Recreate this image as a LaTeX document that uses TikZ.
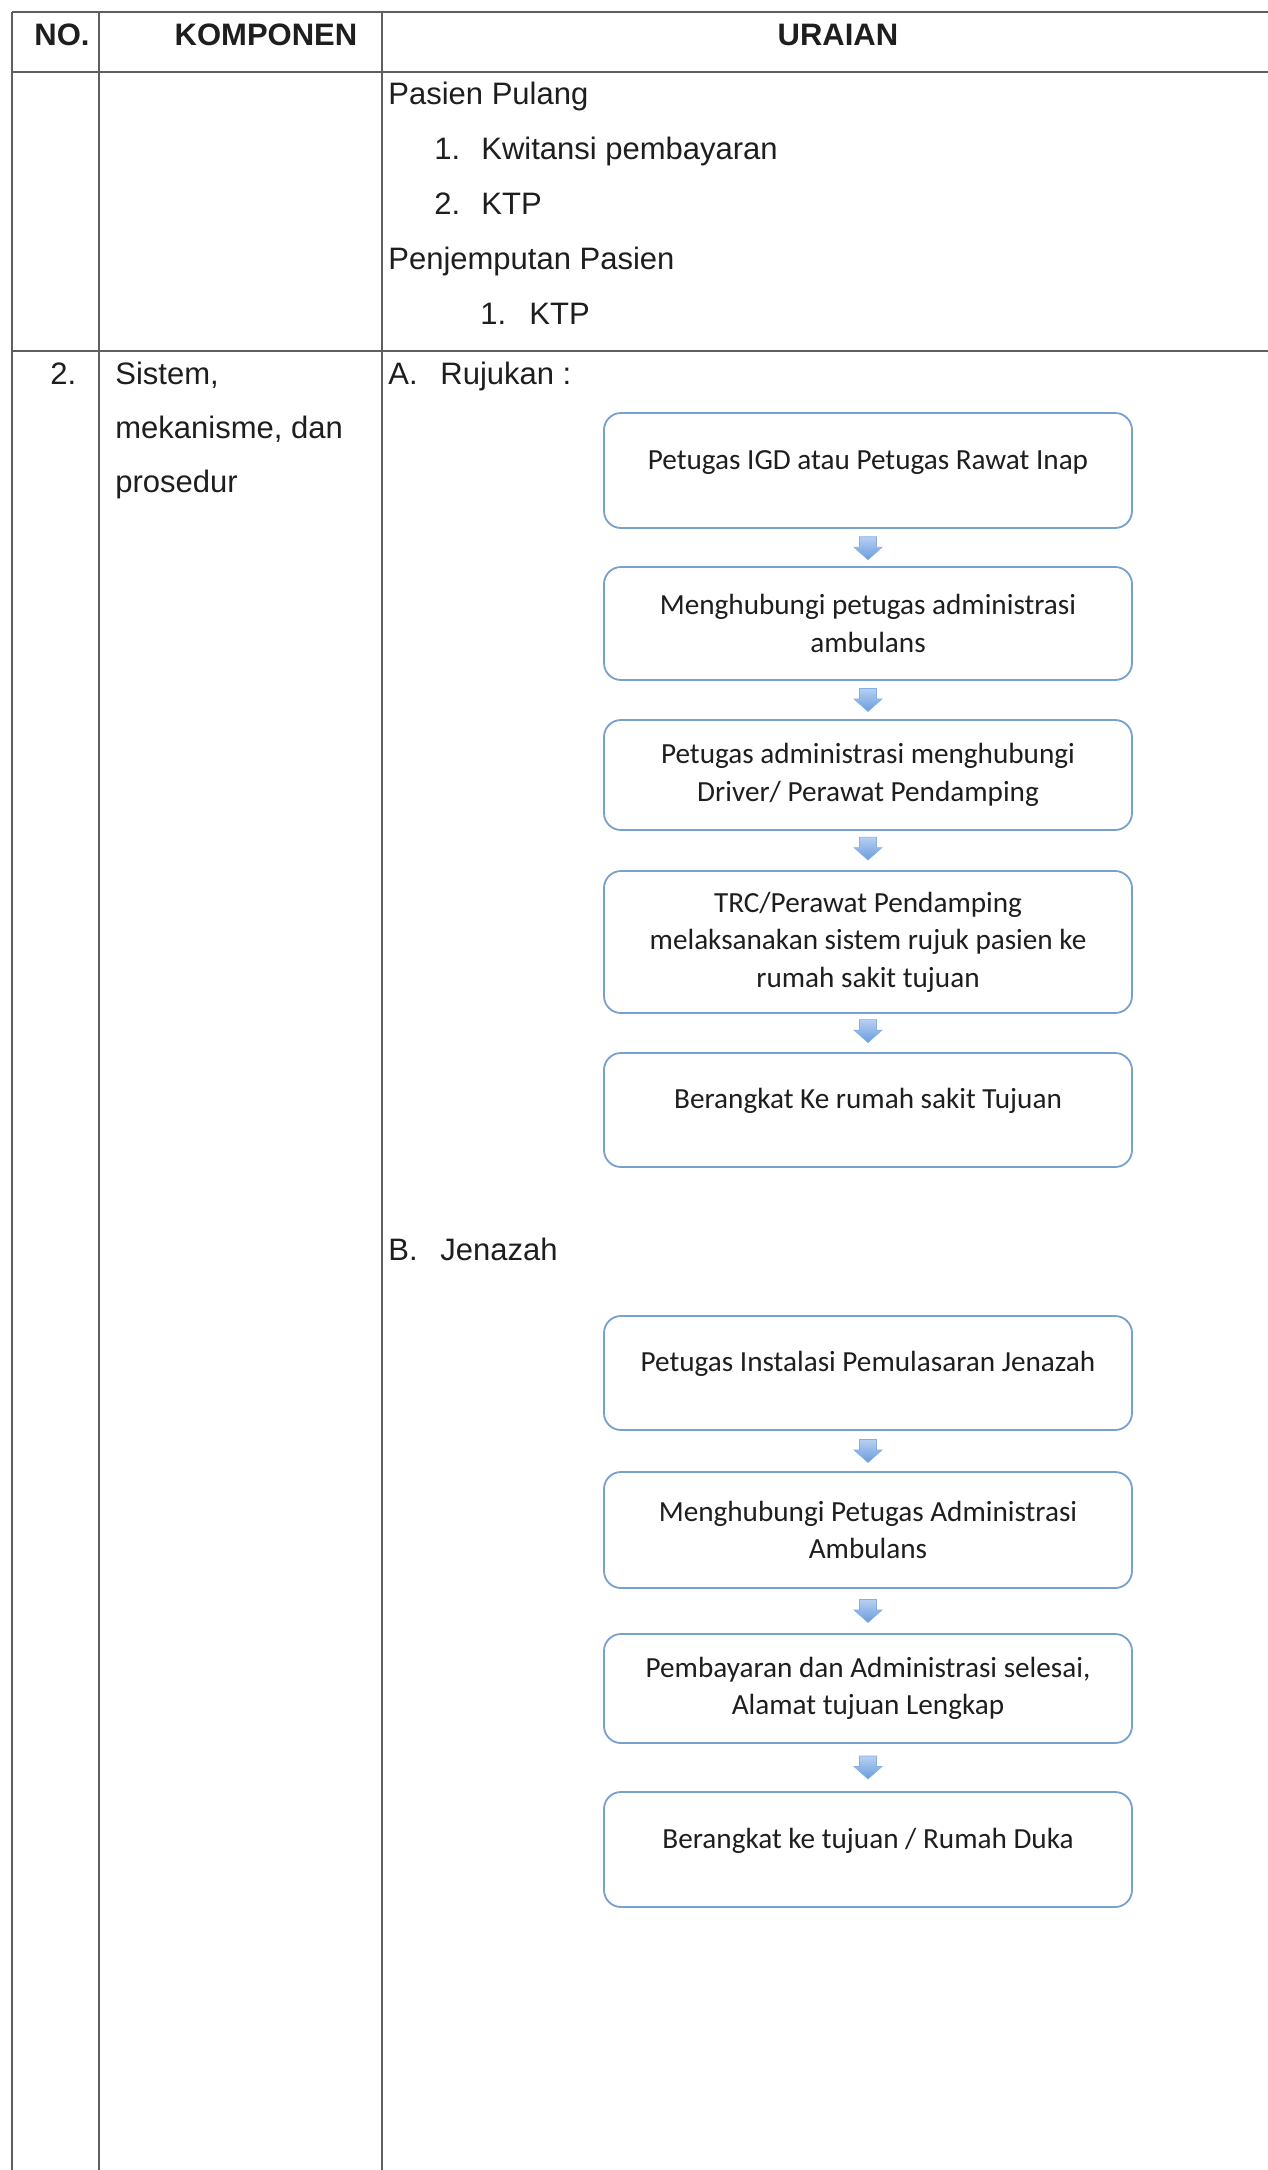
\documentclass[tikz,border=0pt]{standalone}
\usepackage{fontspec}
\setmainfont{Liberation Sans}
\newfontfamily\boxfont{Carlito}
\definecolor{gridline}{RGB}{95,95,95}
\definecolor{boxline}{RGB}{120,160,205}
\definecolor{arrtop}{RGB}{182,208,242}
\definecolor{arrbot}{RGB}{105,155,222}
\definecolor{ink}{RGB}{30,30,30}
\begin{document}
\begin{tikzpicture}[x=0.5pt,y=-0.5pt,
  celltext/.style={font=\fontsize{15.5}{18}\selectfont, text=ink, inner sep=0pt},
  hdr/.style={celltext, font=\fontsize{15.5}{18}\selectfont\bfseries, anchor=base},
  txt/.style={celltext, anchor=base west},
  flow/.style={draw=boxline, line width=0.9pt, rounded corners=8.5pt, minimum width=264pt, inner sep=0pt, align=center, text=ink, font=\boxfont\fontsize{14.6}{18.75}\selectfont},
  oneline/.style={text height=8pt, text depth=9.3pt},
  tabline/.style={draw=gridline, line width=1pt},
  pics/down/.style={code={\shade[top color=arrtop,bottom color=arrbot,draw=arrbot!80!white,line width=0.3pt] (-4.25pt,5.75pt) -- (4.25pt,5.75pt) -- (4.25pt,0.5pt) -- (7pt,0.5pt) -- (0pt,-5.75pt) -- (-7pt,0.5pt) -- (-4.25pt,0.5pt) -- cycle;}}
]
\fill[white] (0,0) rectangle (1268,2170);
\useasboundingbox (0,0) rectangle (1268,2170);

% table rules
\draw[tabline] (12,12) -- (1268,12);
\draw[tabline] (12,72) -- (1268,72);
\draw[tabline] (12,351) -- (1268,351);
\draw[tabline] (12,12) -- (12,2170);
\draw[tabline] (99,12) -- (99,2170);
\draw[tabline] (382,12) -- (382,2170);

% header
\node[hdr] (hno) at (62,45) {NO.};
\node[hdr] (hkomp) at (266,45) {KOMPONEN};
\node[hdr] (hur) at (838,45) {URAIAN};

% row 1
\node[txt] (pp) at (388,104) {Pasien Pulang};
\node[txt] (n1) at (434,159) {1.};
\node[txt] (kw) at (481,159) {Kwitansi pembayaran};
\node[txt] (n2) at (434,214) {2.};
\node[txt] (ktp1) at (481,214) {KTP};
\node[txt] (pj) at (388,269) {Penjemputan Pasien};
\node[txt] (n3) at (480,324) {1.};
\node[txt] (ktp2) at (529,324) {KTP};

% row 2
\node[txt] (no2) at (50,384) {2.};
\node[txt] (k1) at (115,384) {Sistem,};
\node[txt] (k2) at (115,438) {mekanisme, dan};
\node[txt] (k3) at (115,492) {prosedur};
\node[txt] (ra) at (388,384) {A.};
\node[txt] (rt) at (440,384) {Rujukan :};
\node[txt] (ja) at (388,1260) {B.};
\node[txt] (jt) at (440,1260) {Jenazah};

% flow A
\node[flow, oneline, minimum height=57.5pt] (r1) at (868,470.5) {Petugas IGD atau Petugas Rawat Inap};
\node[flow, minimum height=56.5pt] (r2) at (868,623.5) {Menghubungi petugas administrasi\\ambulans};
\node[flow, minimum height=55pt] (r3) at (868,775) {Petugas administrasi menghubungi\\Driver/ Perawat Pendamping};
\node[flow, minimum height=71pt] (r4) at (868,942) {TRC/Perawat Pendamping\\melaksanakan sistem rujuk pasien ke\\rumah sakit tujuan};
\node[flow, oneline, minimum height=57pt] (r5) at (868,1110) {Berangkat Ke rumah sakit Tujuan};

% flow B
\node[flow, oneline, minimum height=57pt] (j1) at (868,1373) {Petugas Instalasi Pemulasaran Jenazah};
\node[flow, minimum height=58pt] (j2) at (868,1530) {Menghubungi Petugas Administrasi\\Ambulans};
\node[flow, minimum height=54.5pt] (j3) at (868,1688.5) {Pembayaran dan Administrasi selesai,\\Alamat tujuan Lengkap};
\node[flow, oneline, minimum height=57.5pt] (j4) at (868,1849.5) {Berangkat ke tujuan / Rumah Duka};

% arrows
\path (r1.south) -- (r2.north) coordinate[pos=0.52] (a1);
\path (r2.south) -- (r3.north) coordinate[pos=0.5] (a2);
\path (r3.south) -- (r4.north) coordinate[pos=0.45] (a3);
\path (r4.south) -- (r5.north) coordinate[pos=0.45] (a4);
\path (j1.south) -- (j2.north) coordinate[pos=0.5] (b1);
\path (j2.south) -- (j3.north) coordinate[pos=0.5] (b2);
\path (j3.south) -- (j4.north) coordinate[pos=0.5] (b3);
\foreach \c in {a1,a2,a3,a4,b1,b2,b3} {\pic at (\c) {down};}
\end{tikzpicture}
\end{document}
